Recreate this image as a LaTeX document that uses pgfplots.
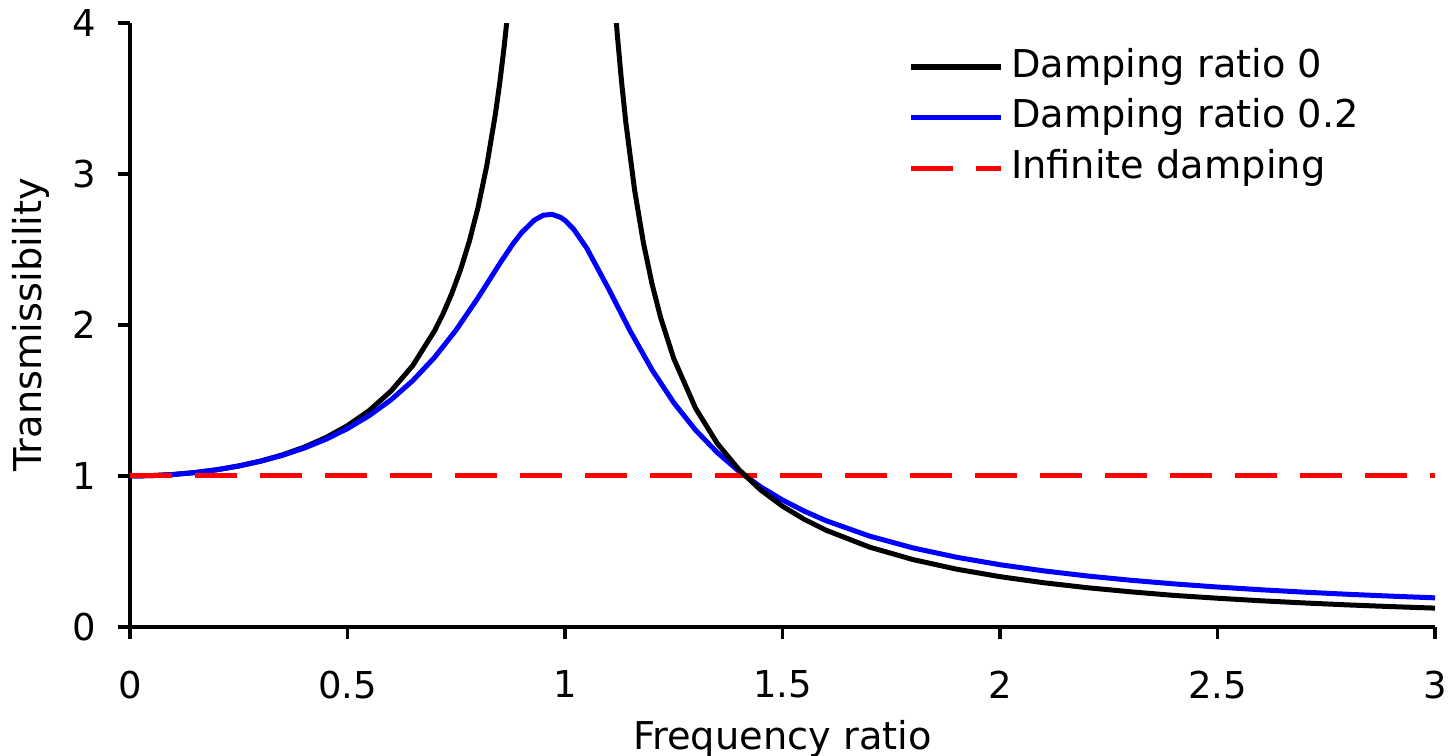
\documentclass[border=0pt]{standalone}
\usepackage{fontspec}
\setmainfont{DejaVu Sans}
\usepackage{pgfplots}
\pgfplotsset{compat=1.18}
\definecolor{tBlue}{RGB}{0,0,255}
\definecolor{tRed}{RGB}{255,0,0}
\newcommand{\figfont}{\fontsize{11.1}{13.3}\selectfont}
\newcommand{\labfont}{\fontsize{11.5}{13.8}\selectfont}

\begin{document}
\begin{tikzpicture}[font=\figfont]
\begin{axis}[
  scale only axis,
  width=391.5pt,height=181.2pt,
  xmin=0,xmax=3,ymin=0,ymax=4,
  axis x line*=bottom,axis y line*=left,
  axis line style={line width=1pt},
  xtick={0,0.5,1,1.5,2,2.5,3},
  ytick={0,1,2,3,4},
  tick align=outside,
  major tick length=3.6pt,
  every tick/.style={line width=1pt,black},
  /pgf/number format/assume math mode=true,
  xticklabel style={yshift=-6pt},
  yticklabel style={xshift=-3pt},
  xlabel={Frequency ratio},
  ylabel={Transmissibility},
  label style={font=\labfont},
  xlabel style={yshift=0.5pt},
  ylabel style={yshift=0pt},
  legend style={draw=none,fill=none,at={(rel axis cs:0.596,0.958)},anchor=north west,
    row sep=4.4pt,inner sep=0pt,
    nodes={inner sep=0pt,text height=8.4pt,text depth=2.4pt,font=\labfont},
    /tikz/every odd column/.append style={column sep=2.2pt}},
  legend cell align=left,
  legend image code/.code={\draw[#1,line width=1.6pt] (0pt,0pt) -- (27pt,0pt);},
  every axis plot/.append style={line width=1.5pt,line join=round},
]
\coordinate (bl) at (rel axis cs:0,0);
\coordinate (tr) at (rel axis cs:1,1);
\addplot[black] coordinates {
(0,1) (0.05,1.0025) (0.1,1.0101) (0.15,1.0230) (0.2,1.0417) (0.25,1.0667)
(0.3,1.0989) (0.35,1.1396) (0.4,1.1905) (0.45,1.2539) (0.5,1.3333)
(0.55,1.4337) (0.6,1.5625) (0.65,1.7316) (0.7,1.9608) (0.72,2.0764)
(0.74,2.2104) (0.76,2.3674) (0.78,2.5536) (0.8,2.7778) (0.82,3.0525)
(0.84,3.3967) (0.85,3.6036) (0.86,3.8402) (0.87,4.1135)
};
\addlegendentry{Damping ratio 0}
\addplot[tBlue] coordinates {
(0,1) (0.05,1.0025) (0.1,1.0101) (0.15,1.0229) (0.2,1.0414) (0.25,1.0659)
(0.3,1.0973) (0.35,1.1363) (0.4,1.1843) (0.45,1.2428) (0.5,1.3138)
(0.55,1.4000) (0.6,1.5046) (0.65,1.6315) (0.7,1.7849) (0.75,1.9681)
(0.8,2.1798) (0.85,2.4067) (0.88,2.5357) (0.9,2.6110) (0.93,2.6958)
(0.95,2.7268) (0.97,2.7330) (0.99,2.7126) (1.0,2.6926) (1.02,2.6343)
(1.05,2.5088) (1.1,2.2409) (1.15,1.9593) (1.2,1.7035) (1.25,1.4856)
(1.3,1.3045) (1.35,1.1551) (1.4,1.0313) (1.45,0.9280) (1.5,0.8411)
(1.55,0.7673) (1.6,0.7041) (1.7,0.6021) (1.8,0.5237) (1.9,0.4620)
(2.0,0.4125) (2.1,0.3719) (2.2,0.3381) (2.3,0.3097) (2.4,0.2855)
(2.5,0.2646) (2.6,0.2465) (2.7,0.2306) (2.8,0.2166) (2.9,0.2042) (3.0,0.1931)
};
\addlegendentry{Damping ratio 0.2}
\addplot[tRed,dash pattern=on 12.6pt off 6.9pt] coordinates {(0,1) (3,1)};
\addlegendentry{Infinite damping}
\addplot[black,forget plot] coordinates {
(1.11,4.3084) (1.12,3.9308) (1.13,3.6114) (1.14,3.3378) (1.16,2.8935)
(1.18,2.5484) (1.2,2.2727) (1.22,2.0475) (1.25,1.7778) (1.3,1.4493)
(1.35,1.2158) (1.4,1.0417) (1.45,0.9070) (1.5,0.8) (1.55,0.7130)
(1.6,0.6410) (1.7,0.5291) (1.8,0.4464) (1.9,0.3831) (2.0,0.3333)
(2.1,0.2933) (2.2,0.2604) (2.3,0.2331) (2.4,0.2092) (2.5,0.1905)
(2.6,0.1736) (2.7,0.1592) (2.8,0.1462) (2.9,0.1350) (3.0,0.125)
};
\end{axis}
\pgfresetboundingbox
\path ([shift={(-39pt,-38.7pt)}]bl) rectangle ([shift={(5.1pt,6.9pt)}]tr);
\end{tikzpicture}
\end{document}
